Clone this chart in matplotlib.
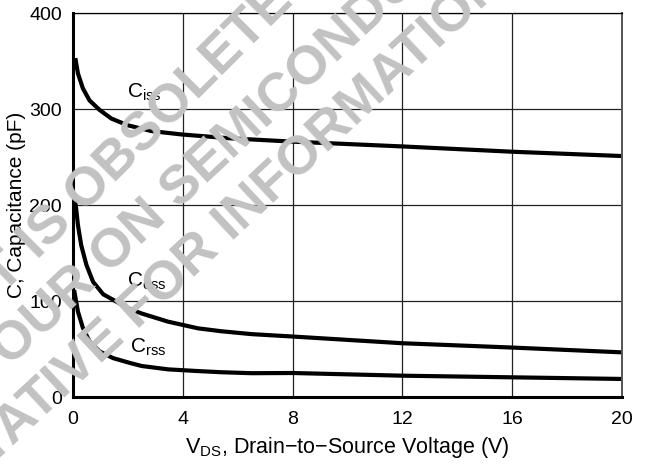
import numpy as np
import matplotlib
matplotlib.use("Agg")
import matplotlib.pyplot as plt

plt.rcParams["font.family"] = ["Liberation Sans", "DejaVu Sans"]
plt.rcParams["mathtext.fontset"] = "custom"
plt.rcParams["mathtext.rm"] = "Liberation Sans"

# Capacitance curves (V, pF)
vds_iss = [0.085, 0.18, 0.36, 0.6, 0.97, 1.4, 2.0, 2.86, 3.95, 5.7, 8, 12, 16, 20]
c_iss = [353, 337, 321.5, 309, 299, 290, 283, 277, 273.5, 269.5, 266, 261, 255.5, 251]

vds_oss = [0.06, 0.1, 0.18, 0.3, 0.49, 0.73, 1.1, 1.6, 2.07, 2.5, 3.46, 4.56, 5.4, 6.5, 8, 12, 16, 20]
c_oss = [212, 200, 179, 158, 137.5, 120, 107, 99, 91.5, 87, 78.5, 71.5, 68.5, 65.5, 63, 56, 51.5, 46.5]

vds_rss = [0.04, 0.18, 0.36, 0.6, 0.97, 1.46, 2.07, 2.5, 3.46, 4.56, 5.4, 6.5, 8, 12, 16, 20]
c_rss = [111.5, 89, 72, 58, 47.5, 40.5, 35.5, 32.3, 28.8, 27, 25.8, 24.8, 25, 22.2, 20.5, 18.8]

x_ticks = [0, 4, 8, 12, 16, 20]
y_ticks = [0, 100, 200, 300, 400]

watermark = ["PRODUCT IS OBSOLETE",
             "CONTACT YOUR ON SEMICONDUCTOR",
             "REPRESENTATIVE FOR INFORMATION"]

fig = plt.figure(figsize=(6.45, 4.66), dpi=100)

# watermark behind everything (centre in pixels, angle)
wm_pos = [(56, 222, 45), (148, 220, 43), (131, 317, 43)]
for txt, (px, py, rot) in zip(watermark, wm_pos):
    fig.text(px / 645, 1 - py / 466, txt, fontsize=39, fontweight="bold",
             color="#c2c2c2", rotation=rot, rotation_mode="anchor",
             ha="center", va="center", zorder=0)

ax = fig.add_axes([73 / 645, 69 / 466, 549 / 645, 384 / 466])
ax.patch.set_alpha(0)

ax.plot(vds_iss, c_iss, color="black", lw=3, solid_capstyle="butt")
ax.plot(vds_oss, c_oss, color="black", lw=3, solid_capstyle="butt")
ax.plot(vds_rss, c_rss, color="black", lw=3, solid_capstyle="butt")

ax.text(1.98, 312, r"C$\mathregular{_{iss}}$", fontsize=15, ha="left", va="baseline")
ax.text(1.95, 115, r"C$\mathregular{_{oss}}$", fontsize=15, ha="left", va="baseline")
ax.text(2.07, 46, r"C$\mathregular{_{rss}}$", fontsize=15, ha="left", va="baseline")

ax.set_xlim(0, 20)
ax.set_ylim(0, 400)
ax.set_xticks(x_ticks)
ax.set_yticks(y_ticks)
ax.tick_params(axis="x", length=0, labelsize=14, pad=10)
ax.tick_params(axis="y", length=0, labelsize=14, pad=8)
ax.grid(True, color="#222222", lw=0.9)

for side in ["left", "bottom"]:
    ax.spines[side].set_linewidth(2.2)
ax.spines["top"].set_linewidth(0.9)
ax.spines["right"].set_linewidth(1.4)
ax.spines["right"].set_color("#555555")

ax.set_xlabel("V$\\mathregular{_{DS}}$, Drain\u2212to\u2212Source Voltage (V)",
              fontsize=15.5, labelpad=5)
ax.set_ylabel("C, Capacitance (pF)", fontsize=15, labelpad=2)

fig.savefig("out.png", dpi=100)
